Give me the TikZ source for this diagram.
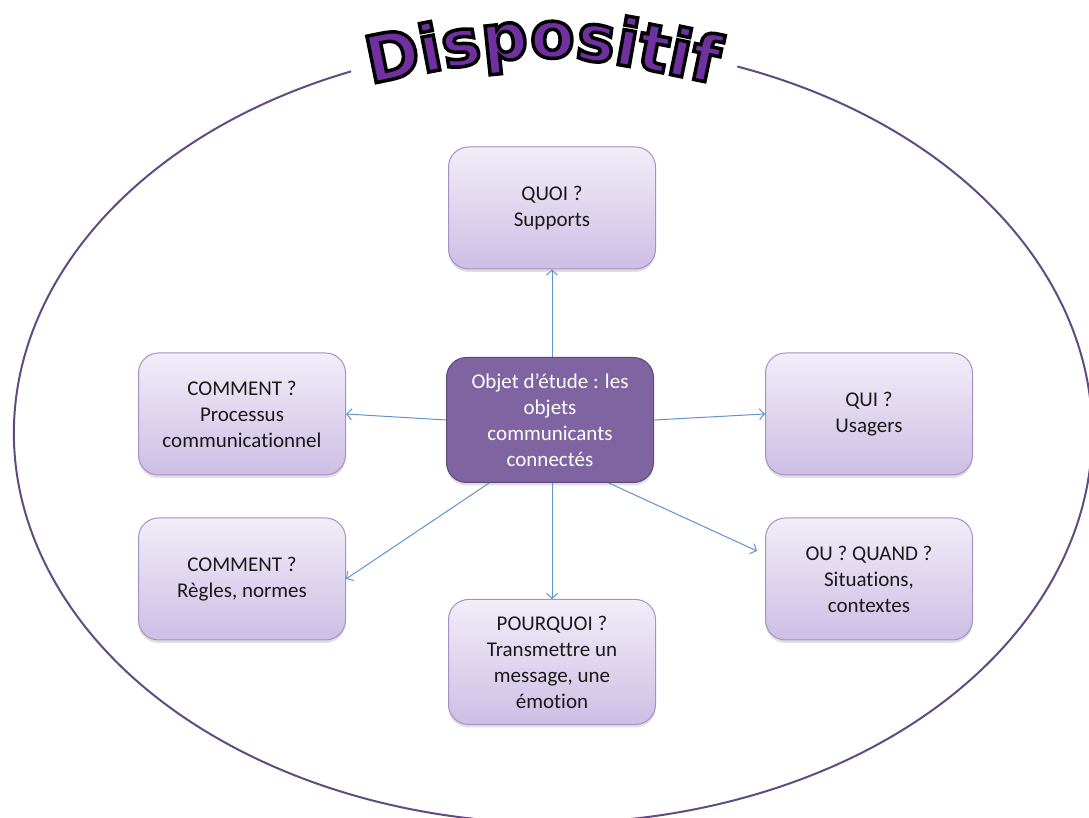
\documentclass[tikz,border=0pt]{standalone}
\usepackage{fontspec}
\setmainfont{Carlito}[Ligatures=CommonOff]
\newfontfamily\ttlfamily{DejaVu Sans}
\usetikzlibrary{arrows.meta,shadows,decorations.text}
\definecolor{qtop}{RGB}{242,237,248}
\definecolor{qbot}{RGB}{205,190,229}
\definecolor{qline}{RGB}{166,145,196}
\definecolor{ctrfill}{RGB}{128,100,162}
\definecolor{ctrline}{RGB}{92,71,120}
\definecolor{ringcol}{RGB}{96,76,130}
\definecolor{arrcol}{RGB}{96,146,204}
\definecolor{ttlcol}{RGB}{112,48,160}
\newcommand{\ttlfont}{\ttlfamily\bfseries\fontsize{65}{65}\selectfont\color{ttlcol}\special{pdf:code 0 0 0 RG 2 Tr 3.5 w}}
\tikzset{qbox/.style = {rectangle, rounded corners=20pt, draw=qline, line width=1pt,
  top color=qtop, bottom color=qbot, minimum width=207pt, minimum height=122pt,
  align=center, text=black!90, font=\fontsize{21}{26}\selectfont,
  drop shadow={shadow xshift=0pt, shadow yshift=-3pt, opacity=0.25}}}
\tikzset{ctrbox/.style = {qbox, draw=ctrline, top color=ctrfill, bottom color=ctrfill,
  text=white, minimum height=125pt}}
\tikzset{edge/.style = {draw=arrcol, line width=1pt, -{Straight Barb[length=5pt,width=11pt]}}}
\tikzset{ttlpath/.style = {decorate, decoration={text along path, text align=center,
  text={|\ttlfont|Dispositif}}}}

\begin{document}
\begin{tikzpicture}[x=1pt, y=1pt]
      \useasboundingbox (0,0) rectangle (1089,818);
      \draw[ringcol, line width=2pt] ([shift={(112:539 and 390)}]553,385)
        arc[start angle=112, end angle=430, x radius=539, y radius=390];

      \begin{scope}
        \path[ttlpath] (360,732) .. controls (545,770) .. (725,732);
      \end{scope}

      \node[ctrbox] (ctr) at (550,398) {Objet d’étude : les\\objets\\communicants\\connectés};
      \node[qbox] (quoi) at (552,610) {QUOI ?\\Supports};
      \node[qbox] (comm) at (242,404) {COMMENT ?\\Processus\\communicationnel};
      \node[qbox] (qui) at (869,404) {QUI ?\\Usagers};
      \node[qbox] (regl) at (242,239) {COMMENT ?\\Règles, normes};
      \node[qbox] (ouq) at (869,239) {OU ? QUAND ?\\Situations,\\contextes};
      \node[qbox, minimum height=125pt] (pourq) at (552,156) {POURQUOI ?\\Transmettre un\\message, une\\émotion};

      \draw[edge] (quoi.south |- ctr.north) -- (quoi.south);
      \draw[edge] (ctr.west) -- (comm.east);
      \draw[edge] (ctr.east) -- (qui.west);
      \draw[edge] (ctr.226) -- (regl.east);
      \draw[edge] (pourq.north |- ctr.south) -- (pourq.north);
      \draw[edge] (ctr.-47) -- ([xshift=-8pt,yshift=28pt]ouq.west);
    \end{tikzpicture}
\end{document}
